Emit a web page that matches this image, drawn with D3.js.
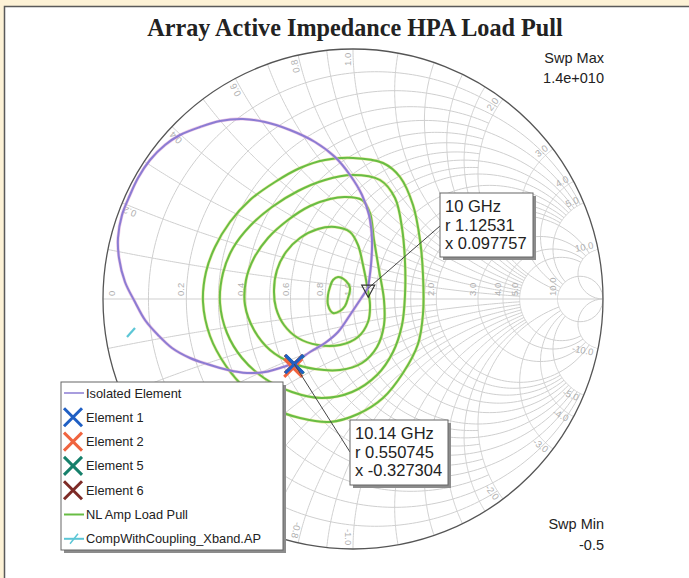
<!DOCTYPE html>
<html>
<head>
<meta charset="utf-8">
<script src="https://cdn.jsdelivr.net/npm/d3@7"></script>
<style>
  body { margin: 0; background: #fdf2d6; }
  svg { display: block; }
</style>
</head>
<body>
<div id="chart"></div>
<script>
// ---- data ----
var title = "Array Active Impedance HPA Load Pull";
var sweepMax = "1.4e+010";
var sweepMin = "-0.5";

// smith grid: resistance circles and reactance arcs
var rMajor = [0.2, 0.4, 0.6, 0.8, 1, 2, 3, 4, 5, 10];
var rMinor = [0.1, 0.3, 0.5, 0.7, 0.9, 1.2, 1.4, 1.6, 1.8];
var xMajor = [0.2, 0.4, 0.6, 0.8, 1, 2, 3, 4, 5, 10];
var xMinor = [0.1, 0.3, 0.5, 0.7, 0.9, 1.2, 1.4, 1.6, 1.8];
var rLabels = [0, 0.2, 0.4, 0.6, 0.8, 1, 2, 3, 4, 5, 10];
var xLabels = [0.2, 0.4, 0.6, 0.8, 1, 2, 3, 4, 5, 10];

// traces as reflection coefficient [re, im]
var isolated = [[0.060,0.044],[0.072,0.136],[0.076,0.236],[0.064,0.336],[0.036,0.416],[-0.012,0.496],
  [-0.072,0.568],[-0.152,0.628],[-0.252,0.676],[-0.352,0.708],[-0.440,0.720],[-0.532,0.712],
  [-0.612,0.688],[-0.692,0.656],[-0.752,0.616],[-0.812,0.556],[-0.860,0.484],[-0.892,0.416],
  [-0.924,0.336],[-0.940,0.244],[-0.936,0.164],[-0.912,0.068],[-0.872,-0.012],[-0.832,-0.084],
  [-0.780,-0.144],[-0.724,-0.196],[-0.652,-0.236],[-0.584,-0.260],[-0.500,-0.284],[-0.424,-0.296],
  [-0.352,-0.292],[-0.280,-0.272],[-0.236,-0.256],[-0.172,-0.212],[-0.112,-0.176],[-0.060,-0.132],
  [-0.012,-0.064],[0.028,-0.004],[0.060,0.044]];

var pull1 = [[0,0.564],[0.12,0.544],[0.188,0.488],[0.24,0.376],[0.268,0.236],[0.28,0.096],[0.28,-0.06],
  [0.26,-0.18],[0.2,-0.296],[0.12,-0.396],[0.02,-0.46],[-0.092,-0.492],[-0.212,-0.476],[-0.324,-0.436],
  [-0.424,-0.364],[-0.508,-0.268],[-0.572,-0.148],[-0.6,-0.012],[-0.588,0.108],[-0.552,0.208],
  [-0.492,0.308],[-0.412,0.396],[-0.312,0.468],[-0.212,0.524],[-0.112,0.556]];
var pull2 = [[-0.004,0.496],[0.108,0.476],[0.168,0.404],[0.196,0.284],[0.208,0.148],[0.208,0.016],
  [0.196,-0.104],[0.16,-0.212],[0.096,-0.304],[-0.004,-0.372],[-0.124,-0.396],[-0.244,-0.372],
  [-0.356,-0.316],[-0.444,-0.236],[-0.504,-0.136],[-0.532,-0.016],[-0.52,0.104],[-0.48,0.204],
  [-0.412,0.292],[-0.324,0.368],[-0.22,0.432],[-0.112,0.476]];
var pull3 = [[-0.032,0.408],[0.036,0.396],[0.068,0.344],[0.084,0.236],[0.104,0.116],[0.124,-0.004],
  [0.124,-0.104],[0.096,-0.192],[0.036,-0.256],[-0.052,-0.284],[-0.152,-0.28],[-0.244,-0.256],
  [-0.332,-0.204],[-0.396,-0.124],[-0.432,-0.024],[-0.428,0.076],[-0.396,0.164],[-0.34,0.244],
  [-0.26,0.316],[-0.172,0.372],[-0.092,0.4]];
var pull4 = [[-0.072,0.288],[-0.012,0.268],[0.02,0.216],[0.04,0.136],[0.056,0.056],[0.068,-0.024],
  [0.06,-0.092],[0.02,-0.152],[-0.052,-0.184],[-0.14,-0.184],[-0.22,-0.156],[-0.276,-0.104],
  [-0.308,-0.036],[-0.316,0.036],[-0.304,0.116],[-0.268,0.188],[-0.212,0.244],[-0.14,0.28]];
var pull5 = [[-0.06,0.088],[-0.028,0.072],[-0.012,0.044],[-0.02,0.004],[-0.032,-0.028],[-0.052,-0.048],
  [-0.08,-0.056],[-0.1,-0.024],[-0.1,0.016],[-0.092,0.048],[-0.08,0.076]];
var compCoupling = [[-0.904,-0.152],[-0.872,-0.116]];

// element impedances (normalised r, x)
var elemNames = ["Element 6", "Element 5", "Element 2", "Element 1"];
var elemR = [0.549, 0.552, 0.538, 0.550745];
var elemX = [-0.326, -0.330, -0.342, -0.327304];

// marker readouts
var markFreq = ["10 GHz", "10.14 GHz"];
var markR = [1.12531, 0.550745];
var markX = [0.097757, -0.327304];

var legendNames = ["Isolated Element", "Element 1", "Element 2", "Element 5", "Element 6",
  "NL Amp Load Pull", "CompWithCoupling_Xband.AP"];

// ---- styles ----
var colPurple = "#8b7cd3", colGreen = "#68bd44", colCyan = "#5cc6d6";
var elemColor = {"Element 1": "#1f5fc4", "Element 2": "#f0643f", "Element 5": "#16806b", "Element 6": "#7d2b27"};

var w = 689, h = 578;
var cx = 353, cy = 299, R = 250;

var svg = d3.select("#chart").append("svg")
    .attr("width", w)
    .attr("height", h)
    .style("font-family", "'Liberation Sans', Arial, sans-serif");

// frame
svg.append("rect").attr("x", 0).attr("y", 0).attr("width", w).attr("height", h).attr("fill", "#fdf2d6");
svg.append("rect").attr("x", 4.5).attr("y", 6.5).attr("width", w + 10).attr("height", h + 10)
    .attr("fill", "#fff").attr("stroke", "#5a5a5a").attr("stroke-width", 1.5);

var xS = d3.scaleLinear().domain([-1, 1]).range([cx - R, cx + R]);
var yS = d3.scaleLinear().domain([-1, 1]).range([cy + R, cy - R]);

function gamma(r, x) {
    var den = (r + 1) * (r + 1) + x * x;
    return [(r * r + x * x - 1) / den, 2 * x / den];
}

var line = d3.line().x(function(d) { return xS(d[0]); }).y(function(d) { return yS(d[1]); });
var contourLine = d3.line().curve(d3.curveCatmullRomClosed.alpha(0.5))
    .x(function(d) { return xS(d[0]); }).y(function(d) { return yS(d[1]); });
var smooth = d3.line().curve(d3.curveCatmullRom.alpha(0.5))
    .x(function(d) { return xS(d[0]); }).y(function(d) { return yS(d[1]); });

function rArc(r, xmax) {
    var a = Math.atan(xmax), pts = [];
    for (var i = 0; i <= 240; i++) {
        var t = -a + 2 * a * i / 240;
        pts.push(gamma(r, Math.tan(t)));
    }
    return line(pts);
}
function xArc(x, rmax) {
    var a = Math.atan(rmax), pts = [];
    for (var i = 0; i <= 200; i++) {
        pts.push(gamma(Math.tan(a * i / 200), x));
    }
    return line(pts);
}

svg.append("clipPath").attr("id", "unit").append("circle")
    .attr("cx", xS(0)).attr("cy", yS(0)).attr("r", xS(1) - xS(0));

var grid = svg.append("g").attr("clip-path", "url(#unit)")
    .attr("fill", "none").attr("stroke", "#cfcfcf").attr("stroke-width", 1);

rMajor.forEach(function(r) { grid.append("path").attr("d", rArc(r, r <= 1 ? 5 : (r < 10 ? 10 : Infinity))); });
rMinor.forEach(function(r) { grid.append("path").attr("d", rArc(r, r < 1 ? 2 : 5)); });
xMajor.forEach(function(x) {
    var rm = x <= 1 ? 5 : (x < 10 ? 10 : Infinity);
    grid.append("path").attr("d", xArc(x, rm));
    grid.append("path").attr("d", xArc(-x, rm));
});
xMinor.forEach(function(x) {
    var rm = x < 1 ? 2 : 5;
    grid.append("path").attr("d", xArc(x, rm));
    grid.append("path").attr("d", xArc(-x, rm));
});
grid.append("line").attr("x1", xS(-1)).attr("x2", xS(1)).attr("y1", yS(0)).attr("y2", yS(0));

// grid labels
var lab = svg.append("g").attr("fill", "#b0b0b0").attr("font-size", "9.5px");
rLabels.forEach(function(r) {
    var px = xS(gamma(r, 0)[0]) - 2;
    if (r === 0) px = xS(-1) + 12;
    lab.append("text")
        .attr("transform", "translate(" + px + "," + (yS(0) - 3) + ") rotate(-90)")
        .text(r === 0 ? "0" : r.toFixed(1));
});
xLabels.forEach(function(x) {
    [x, -x].forEach(function(v) {
        var g = gamma(0, v);
        var ang = Math.atan2(g[1], g[0]);
        var px = xS(0.985 * Math.cos(ang)), py = yS(0.985 * Math.sin(ang));
        lab.append("text")
            .attr("transform", "translate(" + px + "," + py + ") rotate(" + (-ang * 180 / Math.PI) + ")")
            .attr("text-anchor", "end")
            .attr("dy", v > 0 ? -2 : 8)
            .text(v.toFixed(1));
    });
});

// outer circle
svg.append("circle").attr("cx", xS(0)).attr("cy", yS(0)).attr("r", xS(1) - xS(0))
    .attr("fill", "none").attr("stroke", "#555").attr("stroke-width", 1.3);

// load pull contours
[pull1, pull2, pull3, pull4, pull5].forEach(function(c) {
    svg.append("path").attr("d", contourLine(c)).attr("fill", "none")
        .attr("stroke", "#e4e68a").attr("stroke-width", 3.2).attr("opacity", 0.7);
    svg.append("path").attr("d", contourLine(c)).attr("fill", "none")
        .attr("stroke", colGreen).attr("stroke-width", 2);
});

// isolated element
svg.append("path").attr("d", smooth(isolated)).attr("fill", "none")
    .attr("stroke", "#e2a6d8").attr("stroke-width", 3.2).attr("opacity", 0.6);
svg.append("path").attr("d", smooth(isolated)).attr("fill", "none")
    .attr("stroke", colPurple).attr("stroke-width", 2);

svg.append("path").attr("d", line(compCoupling)).attr("stroke", colCyan).attr("stroke-width", 2.2);

// element markers
function xMark(g, size, color) {
    g.append("path").attr("d", "M" + (-size) + "," + (-size) + "L" + size + "," + size +
        "M" + (-size) + "," + size + "L" + size + "," + (-size))
        .attr("stroke", color).attr("stroke-width", 3).attr("fill", "none");
}
elemNames.forEach(function(n, i) {
    var g = gamma(elemR[i], elemX[i]);
    var m = svg.append("g").attr("transform", "translate(" + xS(g[0]) + "," + yS(g[1]) + ")");
    xMark(m, 9, elemColor[n]);
});

// marker readouts
var boxes = [{x: 440, y: 193, w: 93, h: 64, ly: 226}, {x: 350, y: 420, w: 98, h: 65, ly: 452}];
markFreq.forEach(function(f, i) {
    var g = gamma(markR[i], markX[i]);
    var px = xS(g[0]), py = yS(g[1]), b = boxes[i];
    svg.append("line").attr("x1", px).attr("y1", py).attr("x2", b.x).attr("y2", b.ly)
        .attr("stroke", "#444").attr("stroke-width", 1);
    if (i === 0) {
        svg.append("path").attr("transform", "translate(" + px + "," + py + ")")
            .attr("d", "M-6.5,-3L6.5,-3L0,9Z").attr("fill", "none")
            .attr("stroke", "#333").attr("stroke-width", 1.2);
    }
    svg.append("rect").attr("x", b.x + 3).attr("y", b.y + 3).attr("width", b.w).attr("height", b.h).attr("fill", "#8c8c8c");
    svg.append("rect").attr("x", b.x).attr("y", b.y).attr("width", b.w).attr("height", b.h)
        .attr("fill", "#fff").attr("stroke", "#666").attr("stroke-width", 1);
    var t = svg.append("text").attr("font-size", "16.5px").attr("fill", "#222");
    [f, "r " + markR[i], "x " + markX[i]].forEach(function(s, k) {
        t.append("tspan").attr("x", b.x + 5).attr("y", b.y + 19 + k * 18.7).text(s);
    });
});

// legend
var lg = svg.append("g");
lg.append("rect").attr("x", 64).attr("y", 385).attr("width", 222).attr("height", 168).attr("fill", "#8c8c8c");
lg.append("rect").attr("x", 61).attr("y", 382).attr("width", 222).attr("height", 168)
    .attr("fill", "#fff").attr("stroke", "#666").attr("stroke-width", 1);
legendNames.forEach(function(n, i) {
    var y = 393 + i * 24.3;
    if (elemColor[n]) {
        var m = lg.append("g").attr("transform", "translate(73," + y + ")");
        xMark(m, 9, elemColor[n]);
    } else {
        var c = n === "Isolated Element" ? colPurple : (n === "NL Amp Load Pull" ? colGreen : colCyan);
        lg.append("line").attr("x1", 64).attr("x2", 84).attr("y1", y).attr("y2", y)
            .attr("stroke", c).attr("stroke-width", n === "Isolated Element" ? 1.5 : 2);
        if (n === "CompWithCoupling_Xband.AP") {
            lg.append("line").attr("x1", 70).attr("x2", 78).attr("y1", y + 5).attr("y2", y - 5)
                .attr("stroke", c).attr("stroke-width", 1.5);
        }
    }
    lg.append("text").attr("x", 86).attr("y", y + 4.5).attr("font-size", "12.8px").attr("fill", "#222").text(n);
});

// title and sweep labels
svg.append("text").attr("x", 355).attr("y", 36).attr("text-anchor", "middle")
    .attr("font-family", "'Liberation Serif', 'Times New Roman', serif")
    .attr("font-weight", "bold").attr("font-size", "24.2px").attr("fill", "#222").text(title);

var sw = svg.append("g").attr("font-size", "14.5px").attr("fill", "#222").attr("text-anchor", "end");
sw.append("text").attr("x", 604).attr("y", 63).text("Swp Max");
sw.append("text").attr("x", 604).attr("y", 83).text(sweepMax);
sw.append("text").attr("x", 604).attr("y", 529).text("Swp Min");
sw.append("text").attr("x", 604).attr("y", 550).text(sweepMin);
</script>
</body>
</html>
